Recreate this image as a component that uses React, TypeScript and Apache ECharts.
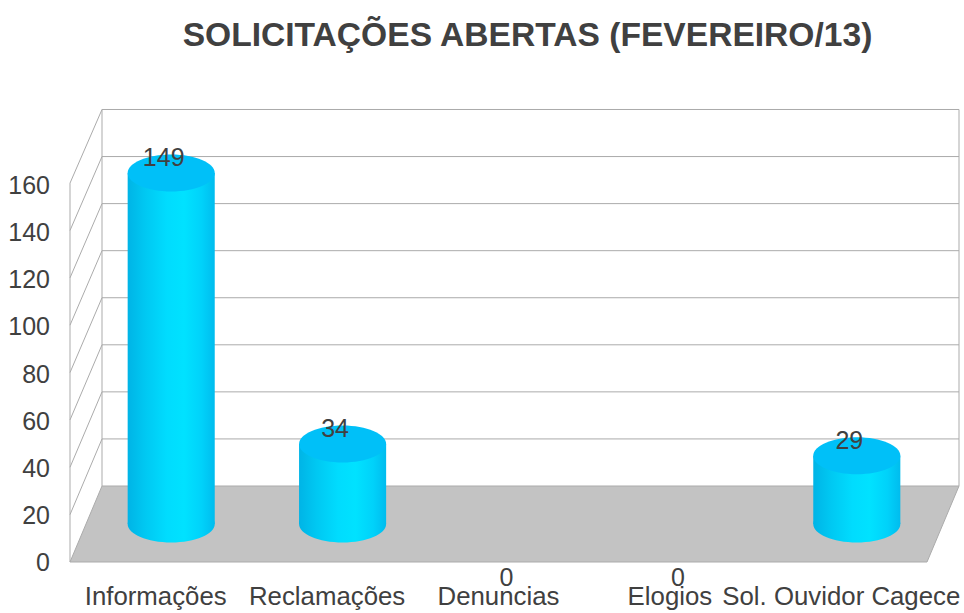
import React, { useEffect, useRef } from "react";
import * as echarts from "echarts";

const titleText = "SOLICITAÇÕES ABERTAS (FEVEREIRO/13)";
const categories = ["Informações", "Reclamações", "Denuncias", "Elogios", "Sol. Ouvidor Cagece"];
const values = [149, 34, 0, 0, 29];
const yTicks = [0, 20, 40, 60, 80, 100, 120, 140, 160];

const TEXT = "#404040";
const LINE = "#ABABAB";
const FONT = "'Liberation Sans', Arial, sans-serif";
const DX = 32;
const DY = -76;

export default function App() {
  const ref = useRef<HTMLDivElement>(null);
  useEffect(() => {
    const chart = echarts.init(ref.current!, undefined, { renderer: "svg" });
    const back = (p: number[], base: number) => [p[0] + DX, base + DY - (base - p[1]) * 0.9987];
    const front = (p: number[], base: number) => [p[0], base - (base - p[1]) * 1.005];

    const renderWalls = (params: any, api: any) => {
      const v = api.value(0);
      const base = api.coord([0, 0])[1];
      const half = api.size([1, 0])[0] / 2;
      const leftRaw = api.coord([0, v]);
      leftRaw[0] -= half;
      const rightRaw = api.coord([categories.length - 1, v]);
      rightRaw[0] += half;
      const left = front(leftRaw, base);
      const right = front(rightRaw, base);
      const bl = back(leftRaw, base);
      const br = back(rightRaw, base);
      const children: any[] = [];
      const lineStyle = { stroke: LINE, lineWidth: 1, fill: "none" };
      if (v === 0) {
        children.push({
          type: "polygon",
          shape: { points: [left, right, br, bl] },
          style: { fill: "#C3C3C3", stroke: LINE, lineWidth: 1 },
        });
        const topV = yTicks[yTicks.length - 1];
        const ltRaw = api.coord([0, topV]);
        ltRaw[0] -= half;
        const rtRaw = api.coord([categories.length - 1, topV]);
        rtRaw[0] += half;
        const lt = front(ltRaw, base);
        const blt = back(ltRaw, base);
        const brt = back(rtRaw, base);
        children.push({ type: "line", shape: { x1: bl[0], y1: bl[1], x2: blt[0], y2: blt[1] }, style: lineStyle });
        children.push({ type: "line", shape: { x1: br[0], y1: br[1], x2: brt[0], y2: brt[1] }, style: lineStyle });
        children.push({ type: "line", shape: { x1: left[0], y1: left[1], x2: lt[0], y2: lt[1] }, style: lineStyle });
      } else {
        children.push({ type: "line", shape: { x1: bl[0], y1: bl[1], x2: br[0], y2: br[1] }, style: lineStyle });
        children.push({ type: "line", shape: { x1: left[0], y1: left[1], x2: bl[0], y2: bl[1] }, style: lineStyle });
      }
      return { type: "group", children };
    };

    const cylinderFill = new echarts.graphic.LinearGradient(0, 0, 1, 0, [
      { offset: 0, color: "#00B4E6" },
      { offset: 0.2, color: "#00C8F2" },
      { offset: 0.45, color: "#00DCFE" },
      { offset: 0.65, color: "#00E2FF" },
      { offset: 0.85, color: "#00D2FA" },
      { offset: 1, color: "#00BCEE" },
    ]);

    const renderCylinder = (params: any, api: any) => {
      const idx = api.value(0);
      const val = api.value(1);
      const p0 = api.coord([idx, 0]);
      const p1 = api.coord([idx, val]);
      const band = api.size([1, 0])[0];
      const rx = band * 0.254;
      const ry = 18.5;
      const cx = p0[0] + DX / 2 - 0.5;
      const cyBottom = p0[1] + DY / 2;
      const cyTop = cyBottom - (p0[1] - p1[1]);
      const children: any[] = [];
      if (val > 0) {
        children.push({
          type: "ellipse",
          shape: { cx, cy: cyBottom, rx, ry },
          style: { fill: cylinderFill },
        });
        children.push({
          type: "rect",
          shape: { x: cx - rx, y: cyTop, width: rx * 2, height: cyBottom - cyTop },
          style: { fill: cylinderFill },
        });
        children.push({
          type: "ellipse",
          shape: { cx, cy: cyTop, rx, ry },
          style: { fill: "#00C0F8" },
        });
      }
      return { type: "group", children };
    };

    const renderLabel = (params: any, api: any) => {
      const idx = api.value(0);
      const val = api.value(1);
      const p0 = api.coord([idx, 0]);
      const p1 = api.coord([idx, val]);
      const cx = p0[0] + DX / 2 - 8;
      const y = val > 0 ? p0[1] + DY / 2 - (p0[1] - p1[1]) - 16 : p0[1] + 14.5;
      return {
        type: "text",
        style: {
          x: cx,
          y,
          text: String(val),
          fill: TEXT,
          font: `25px ${FONT}`,
          textAlign: "center",
          textVerticalAlign: "middle",
        },
      };
    };

    chart.setOption({
      animation: false,
      backgroundColor: "#FFFFFF",
      title: {
        text: titleText,
        left: 522.5,
        top: 12,
        textAlign: "center",
        textStyle: { color: TEXT, fontFamily: FONT, fontWeight: "bold", fontSize: 33.6 },
      },
      grid: { left: 70, right: 37, top: 185, bottom: 51, containLabel: false },
      xAxis: {
        type: "category",
        data: categories,
        axisLine: { show: false },
        axisTick: { show: false },
        axisLabel: {
          interval: 0,
          margin: 21,
          color: TEXT,
          fontFamily: FONT,
          fontSize: 25.8,
          hideOverlap: false,
        },
      },
      yAxis: {
        type: "value",
        min: 0,
        max: 160,
        interval: 20,
        axisLine: { show: false },
        axisTick: { show: false },
        splitLine: { show: false },
        axisLabel: { margin: 20, color: TEXT, fontFamily: FONT, fontSize: 25, padding: [2, 0, 0, 0] },
      },
      series: [
        {
          type: "custom",
          renderItem: renderWalls,
          data: yTicks.map((t) => [t]),
          encode: { y: 0 },
          clip: false,
          silent: true,
          z: 1,
        },
        {
          type: "custom",
          renderItem: renderCylinder,
          data: values.map((v, i) => [i, v]),
          encode: { x: 0, y: 1 },
          clip: false,
          silent: true,
          z: 2,
        },
        {
          type: "custom",
          renderItem: renderLabel,
          data: values.map((v, i) => [i, v]),
          encode: { x: 0, y: 1 },
          clip: false,
          silent: true,
          z: 3,
        },
      ],
    });
    return () => chart.dispose();
  }, []);
  return <div ref={ref} style={{ position: "absolute", left: 0, top: 0, width: 964, height: 613 }} />;
}
